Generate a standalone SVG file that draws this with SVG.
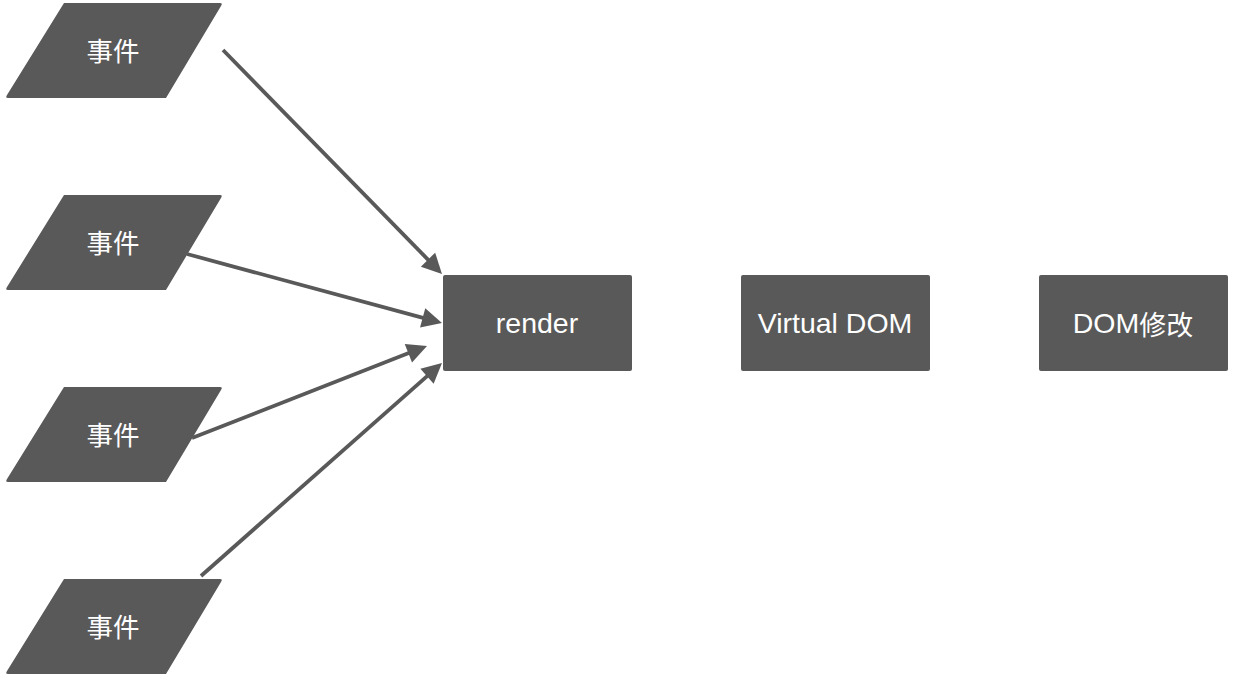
<svg xmlns="http://www.w3.org/2000/svg" width="1234" height="676" viewBox="0 0 1234 676">
  <style>
    .shape { fill: #595959; }
    .label { fill: #ffffff; font-family: "Liberation Sans", "Noto Sans CJK SC", sans-serif; font-size: 28.5px; text-anchor: middle; dominant-baseline: central; }
    .cjk { font-family: "Noto Sans CJK SC", sans-serif; font-size: 26.5px; }
    .edge { stroke: #595959; stroke-width: 3.8; fill: none; marker-end: url(#arrow); }
  </style>
  <defs>
    <marker id="arrow" markerUnits="userSpaceOnUse" markerWidth="22" markerHeight="22" viewBox="0 0 22 22" refX="11" refY="11" orient="auto">
      <path d="M1,1 L21,11 L1,21 z" fill="#595959"/>
    </marker>
  </defs>
  <rect width="1234" height="676" fill="#ffffff"/>

  <!-- event inputs (parallelograms) -->
  <g id="event1">
    <path class="shape" d="M64,3 L220,3 Q223,3 221,6 L166,98 L8,98 Q5,98 7,95 Z"/>
    <text class="label cjk" x="113" y="49">事件</text>
  </g>
  <g id="event2">
    <path class="shape" d="M64,195 L220,195 Q223,195 221,198 L166,290 L8,290 Q5,290 7,287 Z"/>
    <text class="label cjk" x="113" y="241">事件</text>
  </g>
  <g id="event3">
    <path class="shape" d="M64,387 L220,387 Q223,387 221,390 L166,482 L8,482 Q5,482 7,479 Z"/>
    <text class="label cjk" x="113" y="433">事件</text>
  </g>
  <g id="event4">
    <path class="shape" d="M64,579 L220,579 Q223,579 221,582 L166,674 L8,674 Q5,674 7,671 Z"/>
    <text class="label cjk" x="113" y="625">事件</text>
  </g>

  <!-- processing steps -->
  <g id="render">
    <rect class="shape" x="443" y="275" width="189" height="96" rx="2"/>
    <text class="label" x="537" y="323">render</text>
  </g>
  <g id="virtual-dom">
    <rect class="shape" x="741" y="275" width="189" height="96" rx="2"/>
    <text class="label" x="835" y="323">Virtual DOM</text>
  </g>
  <g id="dom-update">
    <rect class="shape" x="1039" y="275" width="189" height="96" rx="2"/>
    <text class="label" x="1133" y="323">DOM<tspan font-family="Noto Sans CJK SC, sans-serif" font-size="27">修改</tspan></text>
  </g>

  <!-- connectors -->
  <g id="connectors">
    <line class="edge" x1="223" y1="50" x2="435" y2="266.8"/>
    <line class="edge" x1="187" y1="254" x2="432.3" y2="320.4"/>
    <line class="edge" x1="192" y1="438" x2="417.7" y2="349.6"/>
    <line class="edge" x1="201" y1="576" x2="434.5" y2="369.6"/>
  </g>
</svg>
